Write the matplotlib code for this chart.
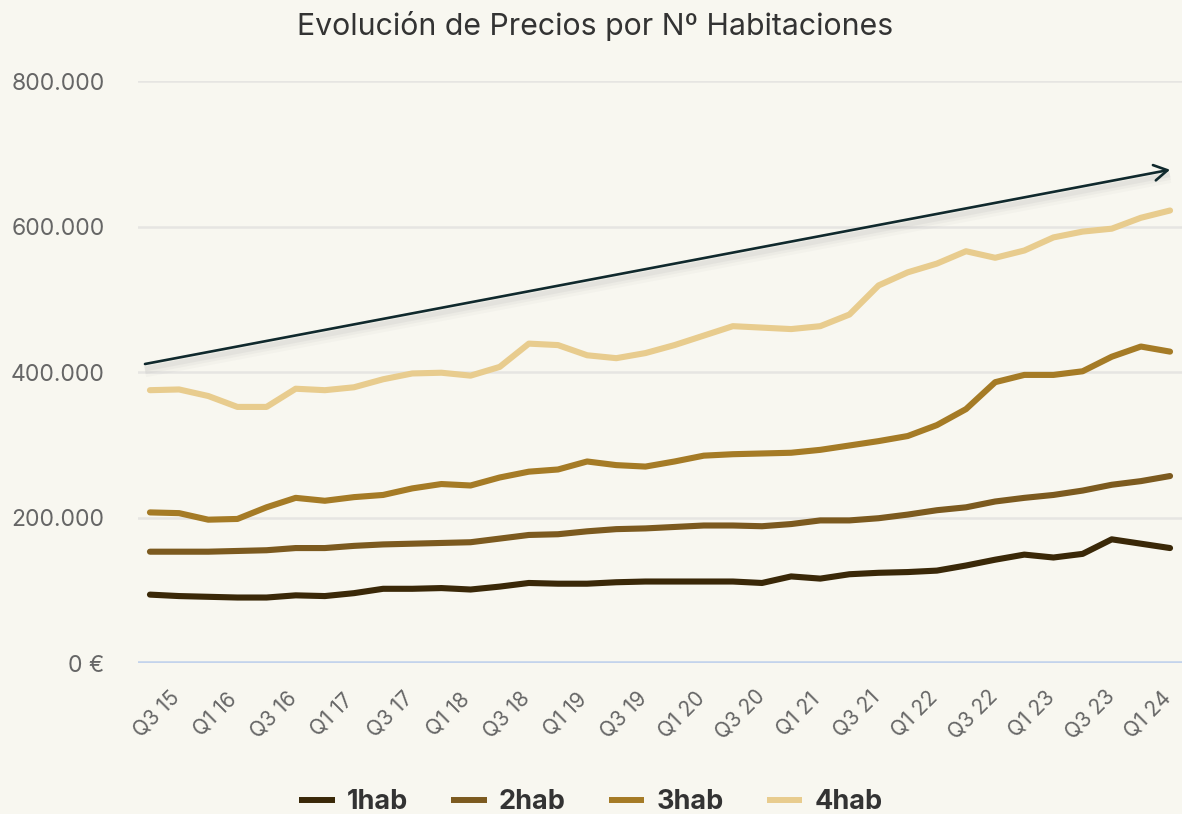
import numpy as np
import matplotlib
matplotlib.use("Agg")
import matplotlib.pyplot as plt
from matplotlib.transforms import ScaledTranslation

plt.rcParams['font.family'] = ['Inter', 'DejaVu Sans']

# quarters Q3 15 .. Q2 24 (only every second one is labelled)
quarters = ['Q3 15', 'Q4 15',
            'Q1 16', 'Q2 16', 'Q3 16', 'Q4 16',
            'Q1 17', 'Q2 17', 'Q3 17', 'Q4 17',
            'Q1 18', 'Q2 18', 'Q3 18', 'Q4 18',
            'Q1 19', 'Q2 19', 'Q3 19', 'Q4 19',
            'Q1 20', 'Q2 20', 'Q3 20', 'Q4 20',
            'Q1 21', 'Q2 21', 'Q3 21', 'Q4 21',
            'Q1 22', 'Q2 22', 'Q3 22', 'Q4 22',
            'Q1 23', 'Q2 23', 'Q3 23', 'Q4 23',
            'Q1 24', 'Q2 24']

# prices in thousands of euros
hab1 = [94, 92, 91, 90, 90, 93, 92, 96, 102, 102, 103, 101,
        105, 110, 109, 109, 111, 112, 112, 112, 112, 110, 119, 116,
        122, 124, 125, 127, 134, 142, 149, 145, 150, 170, 164, 158]
hab2 = [153, 153, 153, 154, 155, 158, 158, 161, 163, 164, 165, 166,
        171, 176, 177, 181, 184, 185, 187, 189, 189, 188, 191, 196,
        196, 199, 204, 210, 214, 222, 227, 231, 237, 245, 250, 257]
hab3 = [207, 206, 197, 198, 214, 227, 223, 228, 231, 240, 246, 244,
        255, 263, 266, 277, 272, 270, 277, 285, 287, 288, 289, 293,
        299, 305, 312, 327, 349, 386, 396, 396, 401, 421, 435, 428]
hab4 = [375, 376, 367, 352, 352, 377, 375, 379, 390, 398, 399, 395,
        407, 439, 437, 423, 419, 426, 437, 450, 463, 461, 459, 463,
        479, 519, 537, 549, 566, 557, 567, 585, 593, 597, 612, 622]

series = ['1hab', '2hab', '3hab', '4hab']
colors = ['#3a2808', '#7c5a1f', '#a57b26', '#e8cc8e']

# trend arrow (start / end), thousands
trend_x = [-0.17, 35]
trend_y = [411, 678]

bg = '#f8f7f0'
fig = plt.figure(figsize=(11.82, 8.14), dpi=100, facecolor=bg)
ax = fig.add_axes([138 / 1182, 1 - 663 / 814, 1 - 138 / 1182, (663 - 81) / 814])
ax.set_facecolor(bg)

x = np.arange(len(quarters))
for vals, name, c in zip([hab1, hab2, hab3, hab4], series, colors):
    ax.plot(x, np.array(vals), color=c, lw=4.4, label=name,
            solid_capstyle='round', solid_joinstyle='round', zorder=3)

# soft shadow under the trend arrow
for w, a, dy in [(9, 0.035, -7), (6, 0.05, -6), (3.5, 0.07, -5)]:
    ax.plot(trend_x, trend_y, color='#777777', lw=w, alpha=a,
            solid_capstyle='butt', zorder=2,
            transform=ax.transData + ScaledTranslation(0, dy / 100, fig.dpi_scale_trans))
ax.annotate('', xy=(trend_x[1], trend_y[1]), xytext=(trend_x[0], trend_y[0]),
            arrowprops=dict(arrowstyle='->,head_length=0.6,head_width=0.35',
                            color='#10292d', lw=1.9, mutation_scale=16,
                            shrinkA=0, shrinkB=0), zorder=4)

ax.set_xlim(-0.41, 35.41)
ax.set_ylim(0, 800)
ax.set_yticks([0, 200, 400, 600, 800])
ax.set_yticklabels(['0 €', '200.000', '400.000', '600.000', '800.000'])
for v in [200, 400, 600, 800]:
    ax.axhline(v, color='#e6e5e2', lw=1.8, zorder=1)
ax.axhline(0, color='#c3d3ec', lw=2.6, zorder=1)

ax.set_xticks(x[::2])
ax.set_xticklabels(quarters[::2], rotation=45, ha='center', va='center',
                   rotation_mode='anchor')
ax.tick_params(axis='x', length=0, pad=37, labelsize=15, labelcolor='#666666')
ax.tick_params(axis='y', length=0, pad=24, labelsize=16.5, labelcolor='#666666')
shift = ScaledTranslation(7 / 100, 0, fig.dpi_scale_trans)
for lab in ax.get_xticklabels():
    lab.set_transform(lab.get_transform() + shift)

for s in ax.spines.values():
    s.set_visible(False)

fig.text(0.5035, 1 - 26 / 814, 'Evolución de Precios por Nº Habitaciones',
         ha='center', va='center', fontsize=21.8, color='#333333')

leg = fig.legend(loc='center', bbox_to_anchor=(0.5, 1 - 802 / 814), ncol=4,
                 frameon=False, handlelength=1.3, handletextpad=0.45,
                 columnspacing=1.6, prop={'weight': 'bold', 'size': 19.5})
for t in leg.get_texts():
    t.set_color('#333333')
for h in leg.legend_handles:
    h.set_linewidth(4.3)
    h.set_solid_capstyle('butt')

fig.savefig('out.png', dpi=100, facecolor=bg)
